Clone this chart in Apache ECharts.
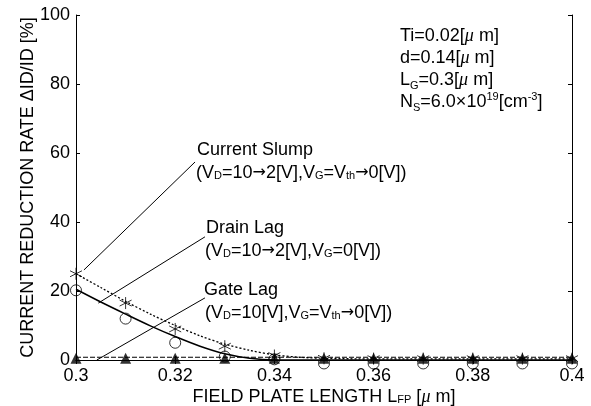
<!DOCTYPE html>
<html>
<head>
<meta charset="utf-8">
<script src="https://cdn.jsdelivr.net/npm/echarts@6/dist/echarts.min.js"></script>
<style>
  html, body { margin: 0; padding: 0; background: #fff; }
  #chart { width: 591px; height: 406px; }
</style>
</head>
<body>
<div id="chart"></div>
<script>
// field plate length [um]
const xValues = [0.30, 0.31, 0.32, 0.33, 0.34, 0.35, 0.36, 0.37, 0.38, 0.39, 0.40];
// measured points
const slumpPoints = [25.0, 16.5, 9.0, 4.0, 1.3, 0.5, 0.4, 0.4, 0.4, 0.4, 0.4];
const drainPoints = [20.2, 12.0, 5.0, 1.0, 0.2, -1.0, -1.0, -1.0, -1.0, -1.0, -1.0];
const gatePoints  = [0.5, 0.5, 0.5, 0.5, 0.5, 0.5, 0.5, 0.5, 0.5, 0.5, 0.5];
// fitted curves
const fitX     = [0.300, 0.305, 0.310, 0.315, 0.320, 0.325, 0.330, 0.335, 0.340, 0.345, 0.350, 0.360, 0.380, 0.400];
const slumpFit = [25.0, 21.0, 17.0, 13.3, 10.0, 7.0, 4.6, 2.8, 1.5, 0.8, 0.5, 0.3, 0.3, 0.3];
const drainFit = [20.5, 16.8, 13.3, 9.9, 6.8, 4.0, 1.8, 0.5, 0.0, 0.0, 0.0, 0.0, 0.0, 0.0];
const gateFit  = [0.8, 0.8, 0.8, 0.8, 0.8, 0.8, 0.8, 0.8, 0.8, 0.8, 0.8, 0.8, 0.8, 0.8];
// leader lines [x, y] in data units
const slumpLeader = [[0.3016, 26.1], [0.3240, 57.4]];
const drainLeader = [[0.3045, 16.5], [0.3260, 35.7]];
const gateLeader  = [[0.3042, 0.0], [0.3260, 18.0]];

const xTicks = ['0.3', '0.32', '0.34', '0.36', '0.38', '0.4'];

const FONT = '"Liberation Sans", sans-serif';
const pair = (xs, ys) => xs.map((x, i) => [x, ys[i]]);
const asterisk = 'path://M0,-1L0,1M-0.87,-0.5L0.87,0.5M-0.87,0.5L0.87,-0.5';

const sub = { fontFamily: FONT, fontSize: 11, verticalAlign: 'bottom', padding: [0, 0, 1, 0], color: '#000' };
const arr = { fontFamily: '"DejaVu Sans"', fontSize: 16, color: '#000' };
const base = { fontFamily: FONT, fontSize: 18, color: '#000' };

const chart = echarts.init(document.getElementById('chart'), null, {renderer: 'canvas'});

function leader(name, pts) {
  return {
    name: name, type: 'line', data: pts, symbol: 'none', silent: true,
    lineStyle: {color: '#000', width: 1}, z: 1
  };
}

const option = {
  animation: false,
  backgroundColor: '#fff',
  grid: {left: 76, right: 19, top: 15, bottom: 46, show: false, outerBoundsMode: 'none', containLabel: false},
  xAxis: [{
    type: 'value', min: 0.3, max: 0.4, interval: 0.02,
    axisLine: {show: true, onZero: false, lineStyle: {color: '#000', width: 1}},
    axisTick: {show: true, inside: true, length: 4, lineStyle: {color: '#000'}},
    splitLine: {show: false},
    axisLabel: {
      margin: 7, fontFamily: FONT, fontSize: 18, color: '#000',
      formatter: (v) => xTicks[Math.round((v - 0.3) / 0.02)]
    },
    name: '{a|FIELD PLATE LENGTH L}{s|FP}{a| [}{m|μ}{a| m]}',
    nameLocation: 'middle', nameGap: 28, nameMoveOverlap: false,
    nameTextStyle: {
      rich: {
        a: base,
        s: sub,
        m: {fontFamily: 'serif', fontStyle: 'italic', fontSize: 18, color: '#000'}
      }
    }
  }, {
    type: 'value', min: 0.3, max: 0.4, interval: 0.02, position: 'top',
    axisLine: {show: true, lineStyle: {color: '#000', width: 1}},
    axisTick: {show: true, inside: true, length: 4, lineStyle: {color: '#000'}},
    axisLabel: {show: false}, splitLine: {show: false}
  }],
  yAxis: [{
    type: 'value', min: 0, max: 100, interval: 20,
    axisLine: {show: true, onZero: false, lineStyle: {color: '#000', width: 1}},
    axisTick: {show: true, inside: true, length: 4, lineStyle: {color: '#000'}},
    splitLine: {show: false},
    axisLabel: {margin: 6, fontFamily: FONT, fontSize: 18, color: '#000'},
    name: 'CURRENT REDUCTION RATE ΔID/ID [%]',
    nameLocation: 'middle', nameGap: 39, nameRotate: 90, nameMoveOverlap: false,
    nameTextStyle: {fontFamily: FONT, fontSize: 18, color: '#000'}
  }, {
    type: 'value', min: 0, max: 100, interval: 20, position: 'right',
    axisLine: {show: true, lineStyle: {color: '#000', width: 1}},
    axisTick: {show: true, inside: true, length: 4, lineStyle: {color: '#000'}},
    axisLabel: {show: false}, splitLine: {show: false}
  }],
  series: [
    {
      name: 'slumpFit', type: 'line', smooth: 0.3, symbol: 'none',
      data: pair(fitX, slumpFit),
      lineStyle: {color: '#000', width: 1.3, type: [2, 2]}
    },
    {
      name: 'drainFit', type: 'line', smooth: 0.3, symbol: 'none',
      data: pair(fitX, drainFit),
      lineStyle: {color: '#000', width: 1.5}
    },
    {
      name: 'gateFit', type: 'line', symbol: 'none',
      data: pair(fitX, gateFit),
      lineStyle: {color: '#000', width: 1.2, type: [5, 2]}
    },
    {
      name: 'Current Slump', type: 'scatter', symbol: asterisk, symbolSize: 12, clip: false,
      data: pair(xValues, slumpPoints),
      itemStyle: {color: 'none', borderColor: '#000', borderWidth: 1}, z: 4
    },
    {
      name: 'Drain Lag', type: 'scatter', symbol: 'circle', symbolSize: 11, clip: false,
      data: pair(xValues, drainPoints),
      itemStyle: {color: 'none', borderColor: '#000', borderWidth: 1}, z: 3
    },
    {
      name: 'Gate Lag', type: 'scatter', symbol: 'triangle', symbolSize: 11, clip: false,
      data: pair(xValues, gatePoints),
      itemStyle: {color: '#000'}, z: 5
    },
    leader('l1', slumpLeader),
    leader('l2', drainLeader),
    leader('l3', gateLeader)
  ],
  graphic: [
    {type: 'text', left: 197, top: 141, style: {
      text: 'Current Slump', font: '18px ' + FONT, fill: '#000'}},
    {type: 'text', left: 196, top: 164, style: {
      text: '(V{s|D}=10{r|→}2[V],V{s|G}=V{s|th}{r|→}0[V])', font: '18px ' + FONT, fill: '#000',
      rich: {s: sub, r: arr}}},
    {type: 'text', left: 206, top: 219, style: {
      text: 'Drain Lag', font: '18px ' + FONT, fill: '#000'}},
    {type: 'text', left: 205, top: 242, style: {
      text: '(V{s|D}=10{r|→}2[V],V{s|G}=0[V])', font: '18px ' + FONT, fill: '#000',
      rich: {s: sub, r: arr}}},
    {type: 'text', left: 204, top: 281, style: {
      text: 'Gate Lag', font: '18px ' + FONT, fill: '#000'}},
    {type: 'text', left: 205, top: 304, style: {
      text: '(V{s|D}=10[V],V{s|G}=V{s|th}{r|→}0[V])', font: '18px ' + FONT, fill: '#000',
      rich: {s: sub, r: arr}}},
    {type: 'text', left: 400, top: 25, style: {
      text: 'Ti=0.02[{m|μ} m]\nd=0.14[{m|μ} m]\nL{s|G}=0.3[{m|μ} m]\nN{s|S}=6.0×10{p|19}[cm{p|-3}]',
      font: '18px ' + FONT, fill: '#000', lineHeight: 22,
      rich: {
        s: {fontFamily: FONT, fontSize: 11, verticalAlign: 'bottom', lineHeight: 22},
        p: {fontFamily: FONT, fontSize: 11, verticalAlign: 'top', lineHeight: 22},
        m: {fontFamily: 'serif', fontStyle: 'italic', fontSize: 18, lineHeight: 22}
      }}}
  ]
};

chart.setOption(option);
</script>
</body>
</html>
